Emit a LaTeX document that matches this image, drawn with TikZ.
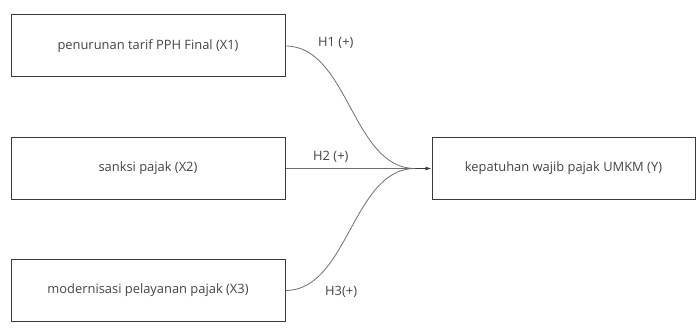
\documentclass[tikz,border=0pt]{standalone}
\usepackage{fontspec}
\setmainfont{Open Sans}
\usepackage{xcolor}
\usepackage{tikz}
\usetikzlibrary{positioning,arrows.meta}

\definecolor{boxline}{HTML}{3A3A3A}
\definecolor{linkline}{HTML}{6E6E6E}
\definecolor{txt}{HTML}{444444}

\begin{document}
\begin{tikzpicture}[
        x=1pt, y=-1pt,
        var/.style={draw=boxline, line width=1pt, minimum width=274pt, minimum height=62pt, align=center, text=txt, font=\fontsize{12.9}{15}\selectfont},
        dep/.style={draw=boxline, line width=1pt, minimum width=263pt, minimum height=62pt, align=center, text=txt, font=\fontsize{12.9}{15}\selectfont},
        hyp/.style={text=txt, font=\fontsize{12.9}{15}\selectfont, anchor=west, inner sep=0pt},
        link/.style={draw=linkline, line width=0.8pt},
        arrow/.style={-{Latex[length=6pt,width=4pt]}, draw=boxline, line width=0.8pt}
    ]
    \useasboundingbox (0,0) rectangle (697,331);

    % variabel bebas
    \node[var] (x1) at (148,46) {penurunan tarif PPH Final (X1)};
    \node[var] (x2) at (148,168.5) {sanksi pajak (X2)};
    \node[var] (x3) at (148,290.5) {modernisasi pelayanan pajak (X3)};

    % variabel terikat
    \node[dep] (y) at (563.5,168.5) {kepatuhan wajib pajak UMKM (Y)};

    % titik temu
    \coordinate (meet) at (415,168.5);

    % hubungan
    \draw[link] (x1.east) to[out=0, in=180, looseness=0.9] (meet);
    \draw[link] (x2.east) -- (meet);
    \draw[link] (x3.east) to[out=0, in=180, looseness=0.9] (meet);
    \draw[arrow] (meet) -- (y.west);

    % hipotesis
    \node[hyp] (h1) at (318,43) {H1 (+)};
    \node[hyp] (h2) at (313,157) {H2 (+)};
    \node[hyp] (h3) at (325,292) {H3(+)};

\end{tikzpicture}
\end{document}
